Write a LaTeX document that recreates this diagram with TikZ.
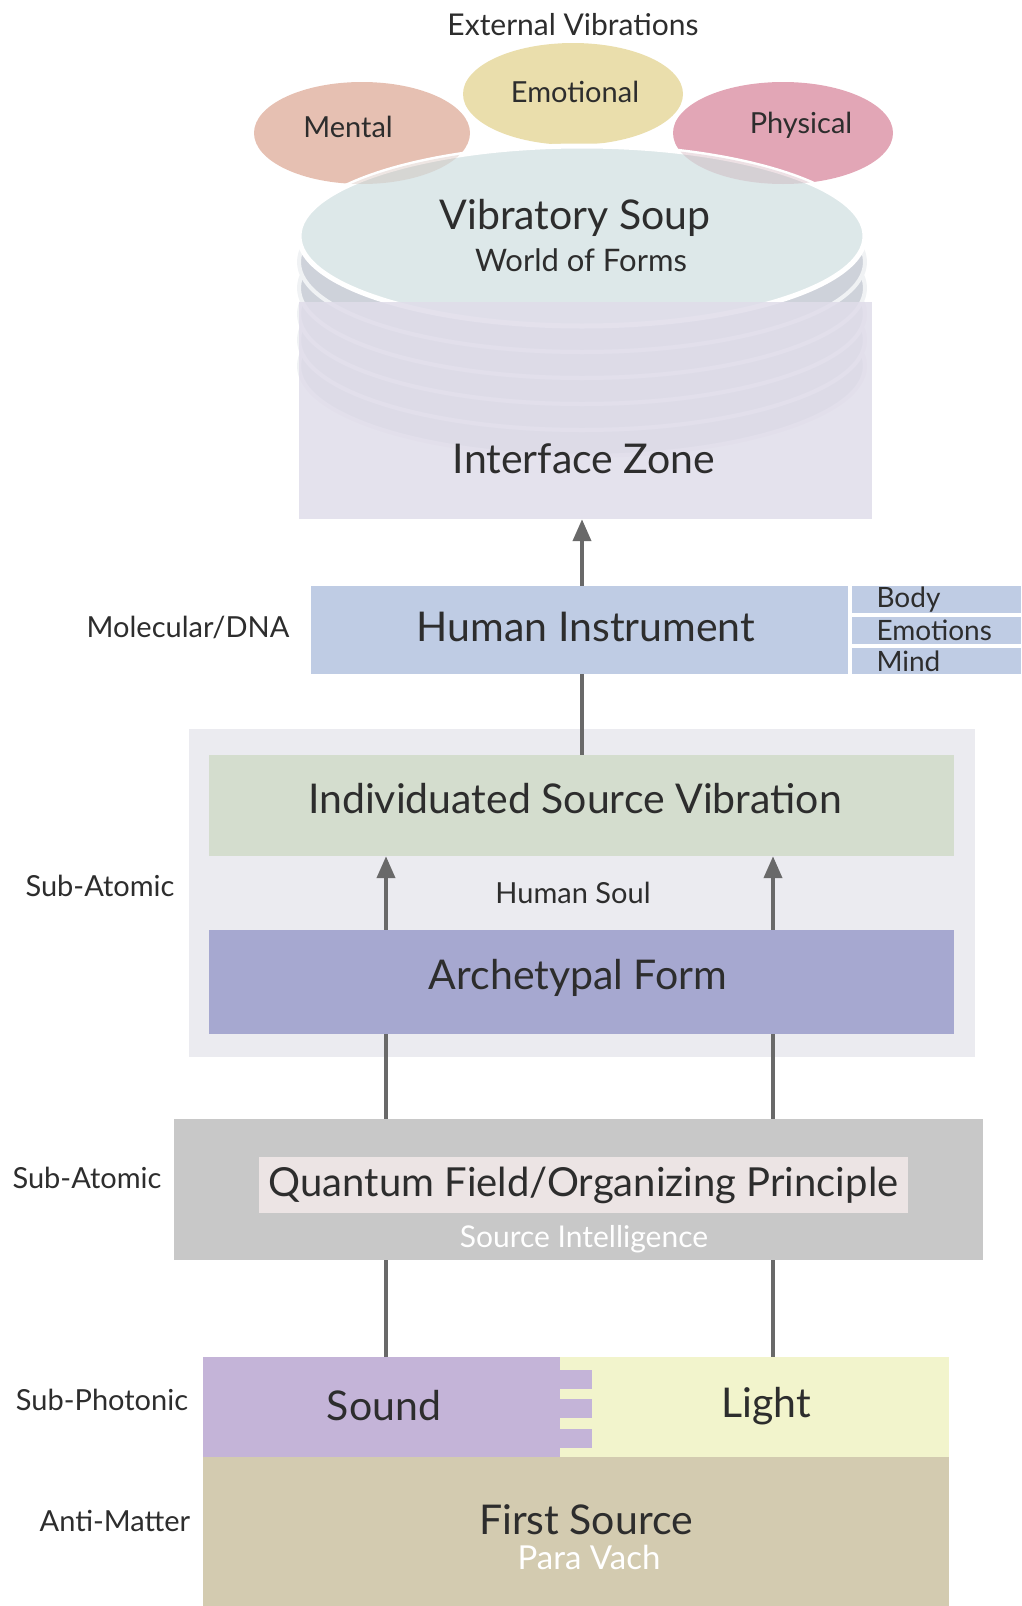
\documentclass[tikz,border=0pt]{standalone}
\usepackage{fontspec}
\setmainfont{Lato}
\usepackage{tikz}
\usetikzlibrary{positioning}
\usetikzlibrary{arrows.meta}

\definecolor{txt}{RGB}{45,45,45}
\definecolor{arr}{RGB}{105,105,105}
\definecolor{mentcol}{RGB}{230,192,178}
\definecolor{emocol}{RGB}{234,222,172}
\definecolor{phycol}{RGB}{226,166,182}
\definecolor{soupcol}{RGB}{221,232,233}
\definecolor{stackcol}{RGB}{206,210,218}
\definecolor{izcol}{RGB}{224,221,234}
\definecolor{humcol}{RGB}{191,204,228}
\definecolor{sacol}{RGB}{235,235,240}
\definecolor{isvcol}{RGB}{212,221,206}
\definecolor{afcol}{RGB}{166,168,208}
\definecolor{qfcol}{RGB}{200,200,200}
\definecolor{qlcol}{RGB}{236,228,228}
\definecolor{sndcol}{RGB}{196,180,216}
\definecolor{lgtcol}{RGB}{242,244,204}
\definecolor{fscol}{RGB}{211,203,176}

\begin{document}
\begin{tikzpicture}[x=1pt, y=-1pt,
    box/.style={rectangle, inner sep=0pt, draw=none},
    big/.style={font=\fontsize{41}{45}\selectfont, text=txt},
    mid/.style={font=\fontsize{29}{32}\selectfont, text=txt},
    sml/.style={font=\fontsize{28}{30}\selectfont, text=txt},
    up/.style={draw=arr, line width=4pt, -{Triangle[width=18pt,length=22pt]}},
    link/.style={draw=arr, line width=4pt}]

        \useasboundingbox (0,0) rectangle (1021,1606);

        % x positions of the vertical connectors
        \coordinate (xm) at (582,0);
        \coordinate (xl) at (386,0);
        \coordinate (xr) at (773,0);

        % Stack of discs under the vibratory soup
        \foreach \k in {5,4,...,1}
            \filldraw[fill=stackcol, draw=white!70!stackcol, line width=4pt]
            (582,{236+26*\k}) ellipse [x radius=283, y radius=90];

        \fill[mentcol] (362,133) ellipse [x radius=108, y radius=51];
        \fill[phycol] (783,133) ellipse [x radius=110, y radius=51];
        \fill[emocol] (573,94) ellipse [x radius=110, y radius=51];

        \filldraw[fill=soupcol, draw=white, line width=5pt]
        (582,236) ellipse [x radius=283, y radius=90];
        \begin{scope}
            \clip (582,236) ellipse [x radius=283, y radius=90];
            \fill[mentcol!70!gray, opacity=.3] (362,133) ellipse [x radius=108, y radius=51];
            \fill[phycol!70!gray, opacity=.3] (783,133) ellipse [x radius=110, y radius=51];
            \fill[emocol!70!gray, opacity=.3] (573,94) ellipse [x radius=110, y radius=51];
        \end{scope}

        \node[mid, font=\fontsize{30}{32}\selectfont] (EV) at (573,25) {External Vibrations};
        \node[mid] (ME) at (348,127) {Mental};
        \node[mid] (EM) at (575,92) {Emotional};
        \node[mid] (PH) at (801,125) {Physical};
        \node[big] (VS) at (575,218) {Vibratory Soup};
        \node[mid, font=\fontsize{31}{34}\selectfont] (WF) at (581,260) {World of Forms};

        % Interface zone over the stack
        \node[box, fill=izcol, fill opacity=.86, minimum width=573,
            minimum height=217] (IZ) at (585.5,410.5) {};
        \node[big] (IZt) at (584,459) {Interface Zone};

        % Human instrument and its three rows
        \node[box, fill=humcol, minimum width=537, minimum height=88]
        (HI) at (579.5,630) {};
        \node[big] (HIt) at (586,627) {Human Instrument};
        \node[box, fill=humcol, minimum width=169, minimum height=27,
            anchor=north west] (BO) at (852,586) {};
        \node[box, fill=humcol, minimum width=169, minimum height=27,
            anchor=north west] (EO) at (852,617) {};
        \node[box, fill=humcol, minimum width=169, minimum height=26,
            anchor=north west] (MI) at (852,648) {};
        \node[sml, anchor=west] at ([xshift=21pt]BO.west) {Body};
        \node[sml, anchor=west] at ([xshift=21pt]EO.west) {Emotions};
        \node[sml, anchor=west] at ([xshift=21pt]MI.west) {Mind};
        \node[mid] (L1) at (188,627) {Molecular/DNA};

        % Human soul group
        \node[box, fill=sacol, minimum width=786, minimum height=328]
        (SA) at (582,893) {};
        \node[box, fill=isvcol, minimum width=745, minimum height=101]
        (ISV) at (581.5,805.5) {};
        \node[big] (ISVt) at (575,799) {Individuated Source Vibration};
        \node[mid] (HS) at (573,893) {Human Soul};
        \node[box, fill=afcol, minimum width=745, minimum height=104]
        (AF) at (581.5,982) {};
        \node[big] (AFt) at (578,978) {Archetypal Form};
        \node[mid] (L2) at (100,886) {Sub-Atomic};

        % Quantum field
        \node[box, fill=qfcol, minimum width=809, minimum height=141]
        (QF) at (578.5,1189.5) {};
        \node[box, big, font=\fontsize{40}{44}\selectfont, fill=qlcol,
            minimum width=649, minimum height=56]
        (QL) at (583.5,1185) {Quantum Field/Organizing Principle};
        \node[mid, font=\fontsize{30}{32}\selectfont, text=white]
        (SI) at (584,1239) {Source Intelligence};
        \node[mid] (L3) at (87,1178) {Sub-Atomic};

        % Sound, light and first source
        \node[box, fill=lgtcol, minimum width=389, minimum height=100]
        (LT) at (754.5,1407) {};
        \node[box, fill=sndcol, minimum width=357, minimum height=100]
        (SD) at (381.5,1407) {};
        \foreach \t in {1370,1399,1429}
            \fill[sndcol] (560,\t) rectangle ++(32,19);
        \node[big] (SDt) at (384,1406) {Sound};
        \node[big] (LTt) at (766,1406) {Light};
        \node[box, fill=fscol, minimum width=746, minimum height=149]
        (FS) at (576,1531.5) {};
        \node[big] (FSt) at (586,1520) {First Source};
        \node[mid, font=\fontsize{33}{36}\selectfont, text=white]
        (PV) at (589,1557) {Para Vach};
        \node[mid] (L4) at (102,1400) {Sub-Photonic};
        \node[mid] (L5) at (115,1521) {Anti-Matter};

        \begin{scope}
            \draw[up] (HI.north -| xm) -- (IZ.south -| xm);
            \draw[link] (ISV.north -| xm) -- (HI.south -| xm);
            \foreach \c in {xl,xr} {
                \draw[up] (AF.north -| \c) -- (ISV.south -| \c);
                \draw[link] (QF.north -| \c) -- (AF.south -| \c);
            }
            \draw[link] (SD.north -| xl) -- (QF.south -| xl);
            \draw[link] (LT.north -| xr) -- (QF.south -| xr);
        \end{scope}

\end{tikzpicture}
\end{document}
